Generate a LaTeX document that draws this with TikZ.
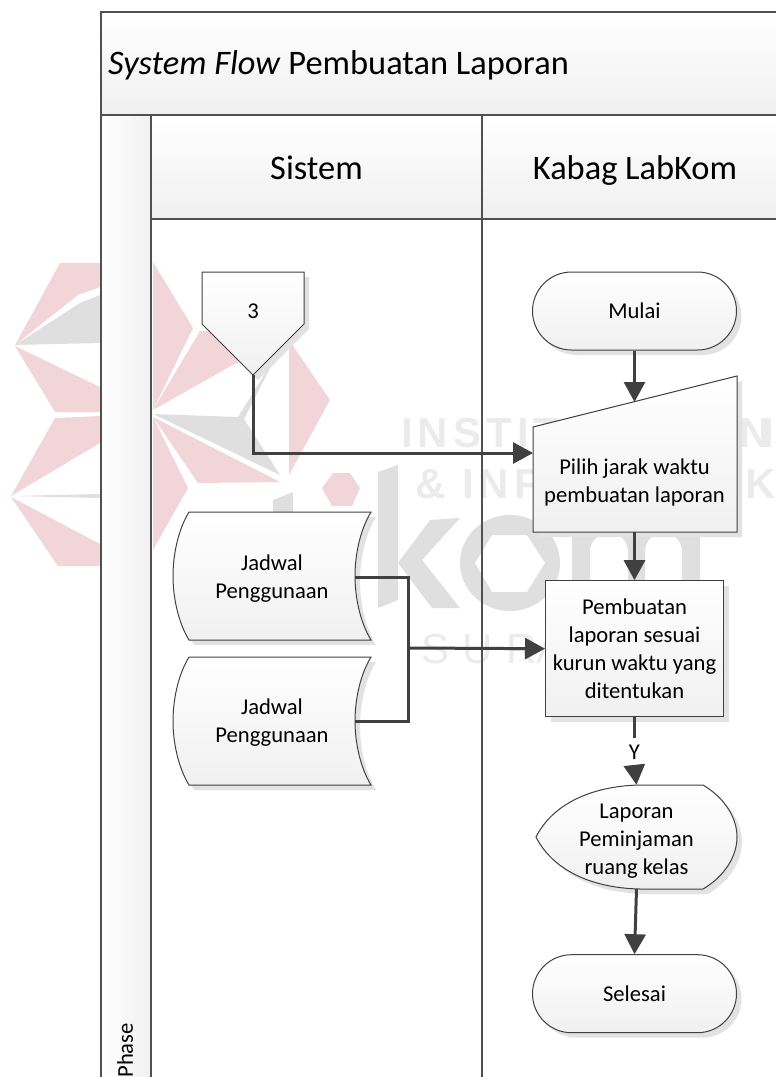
\documentclass[tikz,border=0pt]{standalone}
\usepackage{fontspec}
\setmainfont{Carlito}
\newfontfamily\markbold{Liberation Sans Bold}[LetterSpace=12]
\newfontfamily\markthin{Liberation Sans}[LetterSpace=32]
\usetikzlibrary{arrows.meta,positioning,shadows,shapes.misc}
\definecolor{framegray}{HTML}{505050}
\definecolor{flowgray}{HTML}{404040}
\definecolor{boxgray}{HTML}{F0F0F0}
\definecolor{shadowgray}{HTML}{E2E2E2}
\definecolor{markpink}{HTML}{F2D5D9}
\definecolor{markgray}{HTML}{DFDFDF}
\definecolor{marktext}{HTML}{EBEBEB}
\tikzset{
  lane/.style={draw=framegray, line width=2pt, top color=white, bottom color=boxgray},
  flowbox/.style={draw=flowgray, line width=1pt, top color=white, bottom color=boxgray,
    general shadow={shadow xshift=5pt, shadow yshift=-5pt, fill=shadowgray}},
  flowtext/.style={align=center, inner sep=0pt, font=\fontsize{22.6}{28}\selectfont},
  heading/.style={inner sep=0pt, font=\fontsize{34.4}{40}\selectfont},
  terminal/.style={flowbox, flowtext, rounded rectangle, minimum width=204pt, minimum height=78pt},
  process/.style={flowbox, flowtext, rectangle},
  flow/.style={draw=flowgray, line width=3pt},
  flowarrow/.style={flow, -{Triangle[length=20pt,width=21pt]}},
  marktxt/.style={text=marktext, inner sep=0pt, anchor=base west},
}
\begin{document}
\begin{tikzpicture}[x=1pt, y=-1pt]
    \useasboundingbox (0,0) rectangle (776,1077);
    % logo
    \fill[markpink] (60,263) -- (100,263) -- (100,287) -- (78,295) -- (15,345) -- cycle;
    \fill[markgray] (15,345) -- (80,303) -- (100,295) -- (100,343) -- cycle;
    \fill[markpink] (15,346) -- (100,387) -- (100,412) -- (55,412) -- cycle;
    \fill[markpink] (55,418) -- (100,416) -- (100,443) -- (11,496) -- cycle;
    \fill[markgray] (11,496) -- (100,494) -- (100,498) -- cycle;
    \fill[markpink] (11,497) -- (100,544) -- (100,566) -- (58,566) -- cycle;
    \fill[markpink] (153,262) -- (193,328) -- (153,410) -- cycle;
    \fill[markpink] (153,410) -- (200,331) -- (225,331) -- (238,362) -- cycle;
    \fill[markpink] (289,340) -- (330,400) -- (289,475) -- cycle;
    \fill[markgray] (153,414) -- (238,417) -- (272,362) -- (282,345) -- (244,419) -- (280,475) -- cycle;
    \fill[markpink] (153,417) -- (198,483) -- (280,482) -- cycle;
    \fill[markpink] (153,417) -- (188,488) -- (153,550) -- cycle;
    \fill[markpink] (322,488) -- (333,473) -- (350,473) -- (360,488) -- (352,506) -- (332,506) -- cycle;
    % kom
    \fill[markgray] (273,500) -- (293,492) -- (293,600) -- (273,600) -- cycle;
    \fill[markgray] (378,472) -- (398,465) -- (398,600) -- (378,608) -- cycle;
    \fill[markgray] (430,520) -- (460,518) -- (422,560) -- (460,608) -- (432,608) -- (398,563) -- cycle;
    \fill[markgray, even odd rule] (510,563) ellipse [x radius=50, y radius=48]
      (475,563) -- (492,535) -- (527,535) -- (545,563) -- (527,592) -- (492,592) -- cycle;
    \fill[markgray] (572,612) -- (572,515) -- (700,515) -- (700,612) -- (682,612) -- (682,552)
      .. controls (682,527) and (645,527) .. (645,552) -- (645,612) -- (628,612) -- (628,552)
      .. controls (628,527) and (590,527) .. (590,552) -- (590,612) -- cycle;
    \node[marktxt, font=\markbold\fontsize{42}{42}\selectfont] (markinstit) at (401,447) {INSTIT};
    \node[marktxt, font=\markbold\fontsize{42}{42}\selectfont] (markni) at (739,447) {N\kern-7pt I};
    \node[marktxt, font=\markbold\fontsize{42}{42}\selectfont] (markand) at (415,498) {\& INF};
    \node[marktxt, font=\markbold\fontsize{42}{42}\selectfont] (markk) at (745,498) {K};
    \node[marktxt, font=\markthin\fontsize{42}{42}\selectfont] (marksura) at (421,663) {SUR};
    \draw[marktext, line width=3pt] (538,663) -- (550,633);
    % swimlanes
    \path[lane] (101,12) rectangle (790,115);
    \path[lane, top color=white, bottom color=white, left color=white, right color=boxgray] (101,115) rectangle (151,1090);
    \path[lane] (151,115) rectangle (482,219);
    \path[lane] (482,115) rectangle (790,219);
    \draw[framegray, line width=2pt] (151,219) -- (151,1090);
    \draw[framegray, line width=2pt] (482,219) -- (482,1090);
    \node[heading, anchor=base west] (title) at (108,74) {\textit{System Flow} Pembuatan Laporan};
    \node[heading, anchor=base] (sistem) at (316.5,179) {Sistem};
    \node[heading, anchor=base] (kabag) at (635,179) {Kabag LabKom};
    \node[flowtext, rotate=90, anchor=east] (phase) at (125,1023) {Phase};
    % flow shapes
    \path[flowbox] (202,272) -- (304,272) -- (304,324) -- (253,375) -- (202,324) -- cycle;
    \path[flowbox] (533,427) -- (737,376) -- (737,532) -- (533,532) -- cycle;
    \foreach \y in {512,657} {
      \path[flowbox] (189,\y) -- (371,\y) .. controls (360,\y+18) and (355,\y+43) .. (355,\y+64)
        .. controls (355,\y+85) and (360,\y+110) .. (371,\y+128) -- (189,\y+128)
        .. controls (178,\y+110) and (173,\y+85) .. (173,\y+64)
        .. controls (173,\y+43) and (178,\y+18) .. (189,\y) -- cycle;
    }
    \path[flowbox] (536,837) .. controls (552,805) and (590,786) .. (640,785) -- (703,785)
      .. controls (725,798) and (737,818) .. (737,837) .. controls (737,856) and (725,876) .. (703,889)
      -- (640,889) .. controls (590,888) and (552,869) .. (536,837) -- cycle;
    % flow nodes
    \node[flowtext, minimum width=102pt, minimum height=128pt] (tiga) at (253,311) {3};
    \node[terminal] (mulai) at (634.5,311) {Mulai};
    \node[flowtext, minimum width=204pt, minimum height=103pt] (pilih) at (634.5,480.5) {\rule{0pt}{19pt}Pilih jarak waktu\\pembuatan laporan};
    \node[process, minimum width=178pt, minimum height=136pt, below=48pt of pilih] (pembuatan) {Pembuatan\\laporan sesuai\\kurun waktu yang\\ditentukan};
    \node[flowtext, minimum width=166pt, minimum height=56pt] (jadwalsatu) at (272,577) {\rule{0pt}{19pt}Jadwal\\Penggunaan};
    \node[flowtext, minimum width=166pt, minimum height=56pt] (jadwaldua) at (272,721) {\rule{0pt}{19pt}Jadwal\\Penggunaan};
    \node[flowtext, minimum height=28pt, below=21pt of pembuatan] (ya) {Y};
    \node[flowtext, minimum width=201pt, minimum height=104pt] (laporan) at (636.5,837) {\rule{0pt}{22pt}Laporan\\Peminjaman\\ruang kelas};
    \node[terminal, below=65pt of laporan.south -| mulai] (selesai) {Selesai};
    \coordinate (pilihtop) at (634.5,402);
    \coordinate (pilihkiri) at (533,453);
    \coordinate (gabung) at (408,648);
    % connectors
    \draw[flowarrow] (mulai.south) -- (pilihtop);
    \draw[flowarrow] (tiga.south) |- (pilihkiri);
    \draw[flowarrow] (pilih.south) -- (pembuatan.north);
    \draw[flow] (jadwalsatu.east) -| (gabung) |- (jadwaldua.east);
    \draw[flowarrow] (gabung) -- (pembuatan.west);
    \draw[flow] (pembuatan.south) -- (ya.north);
    \draw[flowarrow] (ya.south) -- (laporan.north);
    \draw[flowarrow] (laporan.south) -- (selesai.north);
\end{tikzpicture}
\end{document}
